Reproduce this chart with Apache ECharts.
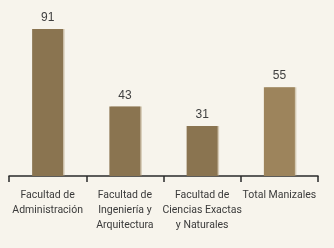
<!DOCTYPE html>
<html>
<head>
<meta charset="utf-8">
<script src="https://cdn.jsdelivr.net/npm/echarts@6/dist/echarts.min.js"></script>
<style>
  html, body { margin: 0; padding: 0; background: #f7f4ec; }
  #chart { width: 334px; height: 248px; }
</style>
</head>
<body>
<div id="chart"></div>
<script>
const categories = [
  'Facultad de\nAdministración',
  'Facultad de\nIngeniería y\nArquitectura',
  'Facultad de\nCiencias Exactas\ny Naturales',
  'Total Manizales'
]
const values = [91, 43, 31, 55]
const barColors = ['#8a7450', '#8a7450', '#8a7450', '#9d845c']

const chart = echarts.init(document.getElementById('chart'))
chart.setOption({
  backgroundColor: '#f7f4ec',
  animation: false,
  grid: { left: 9, right: 16, top: 29, bottom: 72 },
  xAxis: {
    type: 'category',
    data: categories,
    axisLine: { lineStyle: { color: '#2a2a2a', width: 1.5 } },
    axisTick: { show: true, length: 6, inside: false, lineStyle: { color: '#2a2a2a', width: 1.5 } },
    axisLabel: {
      interval: 0,
      margin: 12,
      color: '#3a3a3a',
      fontFamily: 'Roboto, sans-serif',
      fontSize: 10.5,
      lineHeight: 15
    }
  },
  yAxis: {
    type: 'value',
    min: 0,
    max: 91,
    show: false,
    splitLine: { show: false }
  },
  series: [{
    type: 'bar',
    barWidth: 31,
    data: values.map((v, i) => ({
      value: v,
      itemStyle: { color: barColors[i] }
    })),
    itemStyle: {
      shadowColor: 'rgba(170, 150, 115, 0.45)',
      shadowOffsetX: 1.5,
      shadowOffsetY: 0,
      shadowBlur: 0
    },
    label: {
      show: true,
      position: 'top',
      distance: 5,
      color: '#404040',
      fontFamily: 'Liberation Sans, sans-serif',
      fontSize: 12
    }
  }]
})
</script>
</body>
</html>
